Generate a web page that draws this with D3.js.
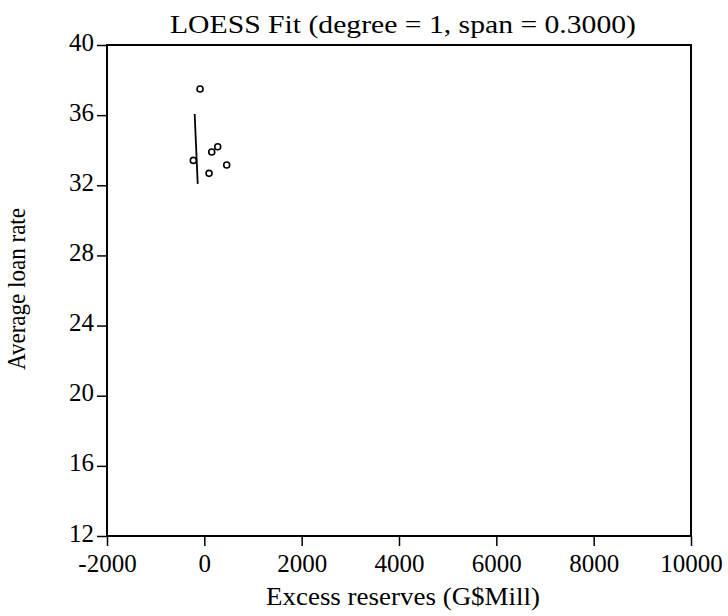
<!doctype html>
<html>
<head>
<meta charset="utf-8"/>
<title>LOESS Fit</title>
<script src="https://d3js.org/d3.v7.min.js"></script>
<style>
body { margin:0; background:#fff; }
text { font-family: "Liberation Serif", "DejaVu Serif", serif; fill:#000; }
</style>
</head>
<body>
<script>
// data
var reserves = [-88, 275, 152, -226, 460, 97];
var loanRate = [37.49, 34.20, 33.90, 33.42, 33.16, 32.68];
var fitX = [-199, -167, -136];
var fitY = [36.07, 34.07, 32.08];
var xTicks = [-2000, 0, 2000, 4000, 6000, 8000, 10000];
var yTicks = [12, 16, 20, 24, 28, 32, 36, 40];

var W = 728, H = 616;
var L = 107, R = 691, T = 45, B = 536;

var svg = d3.select("body").append("svg")
  .attr("width", W).attr("height", H);

var x = d3.scaleLinear().domain([-2000, 10000]).range([L, R]);
var y = d3.scaleLinear().domain([12, 40]).range([B, T]);

// axes (plain hyphen for negatives, like the original)
var fmt = function(d){ return String(d); };
var xAxis = d3.axisBottom(x).tickValues(xTicks).tickSize(10).tickFormat(fmt);
var yAxis = d3.axisLeft(y).tickValues(yTicks).tickSize(10).tickFormat(fmt);

var gx = svg.append("g").attr("transform", "translate(0," + B + ")").call(xAxis);
var gy = svg.append("g").attr("transform", "translate(" + L + ",0)").call(yAxis);

[gx, gy].forEach(function(g){
  g.select(".domain").remove();
  g.selectAll(".tick line").attr("stroke", "#000").attr("stroke-width", 1.5);
  g.selectAll(".tick text").attr("font-size", 25)
    .attr("font-family", "Liberation Serif").attr("fill", "#000");
});
gx.selectAll(".tick text").attr("y", 36).attr("dy", 0);
gy.selectAll(".tick text").attr("x", -13).attr("dy", 5);

// frame
svg.append("rect")
  .attr("x", L).attr("y", T)
  .attr("width", R - L).attr("height", B - T)
  .attr("fill", "none").attr("stroke", "#000").attr("stroke-width", 2);

// fit line
var pts = fitX.map(function(d, i){ return [d, fitY[i]]; });
svg.append("path")
  .datum(pts)
  .attr("d", d3.line().x(function(d){ return x(d[0]); }).y(function(d){ return y(d[1]); }))
  .attr("fill", "none").attr("stroke", "#000").attr("stroke-width", 1.8);

// points
svg.selectAll("circle.pt")
  .data(reserves.map(function(d, i){ return [d, loanRate[i]]; }))
  .enter().append("circle")
  .attr("class", "pt")
  .attr("cx", function(d){ return x(d[0]); })
  .attr("cy", function(d){ return y(d[1]); })
  .attr("r", 3)
  .attr("fill", "#fff").attr("stroke", "#000").attr("stroke-width", 1.6);

// titles
svg.append("text")
  .attr("x", 403).attr("y", 33)
  .attr("text-anchor", "middle").attr("font-size", 26)
  .attr("textLength", 466).attr("lengthAdjust", "spacingAndGlyphs")
  .text("LOESS Fit (degree = 1, span = 0.3000)");

svg.append("text")
  .attr("x", 403).attr("y", 605)
  .attr("text-anchor", "middle").attr("font-size", 25)
  .attr("textLength", 274).attr("lengthAdjust", "spacingAndGlyphs")
  .text("Excess reserves (G$Mill)");

svg.append("text")
  .attr("transform", "translate(25,289) rotate(-90)")
  .attr("text-anchor", "middle").attr("font-size", 25)
  .attr("textLength", 162).attr("lengthAdjust", "spacingAndGlyphs")
  .text("Average loan rate");
</script>
</body>
</html>
